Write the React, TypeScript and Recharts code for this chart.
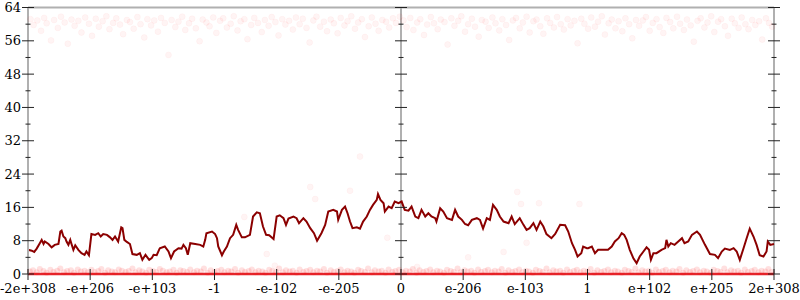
import React from 'react';
import { ComposedChart, Line, Scatter, XAxis, YAxis, ReferenceLine } from 'recharts';

const Y_TICKS = [0, 4, 8, 12, 16, 20, 24, 28, 32, 36, 40, 44, 48, 52, 56, 60, 64];
const X_TICKS = [-6, -5, -4, -3, -2, -1, 0, 1, 2, 3, 4, 5, 6];
const X_LABELS = ['-2e+308', '-e+206', '-e+103', '-1', '-e-102', '-e-205', '0', 'e-206', 'e-103', '1', 'e+102', 'e+205', '2e+308'];

const LINE_POINTS: [number, number][] = [
  [-6.0, 5.8], [-5.94, 5.6], [-5.9, 5.3], [-5.86, 6.1], [-5.81, 7.4], [-5.78, 8.2], [-5.75, 7.2], [-5.73, 7.8], [-5.67, 7.2], [-5.62, 6.4],
  [-5.57, 7.0], [-5.51, 7.2], [-5.48, 10.2], [-5.46, 10.4], [-5.43, 9.0], [-5.4, 8.6], [-5.38, 7.8], [-5.35, 7.0], [-5.32, 8.2], [-5.3, 7.2],
  [-5.27, 5.8], [-5.24, 6.9], [-5.19, 5.8], [-5.14, 5.0], [-5.09, 4.6], [-5.06, 5.4], [-5.02, 4.5], [-4.98, 9.6], [-4.92, 9.4], [-4.87, 9.8],
  [-4.83, 9.0], [-4.79, 9.6], [-4.73, 9.4], [-4.68, 8.8], [-4.64, 8.2], [-4.6, 9.0], [-4.55, 7.8], [-4.5, 11.2], [-4.48, 11.0], [-4.45, 8.2],
  [-4.41, 7.7], [-4.36, 7.2], [-4.32, 4.8], [-4.25, 4.6], [-4.2, 5.0], [-4.16, 3.4], [-4.11, 4.6], [-4.05, 3.4], [-4.01, 3.8], [-3.98, 4.6],
  [-3.93, 4.5], [-3.88, 6.2], [-3.8, 6.6], [-3.74, 5.4], [-3.7, 3.8], [-3.65, 5.4], [-3.58, 6.2], [-3.53, 6.1], [-3.5, 7.0], [-3.46, 6.2],
  [-3.43, 4.6], [-3.39, 7.4], [-3.31, 7.2], [-3.23, 7.0], [-3.18, 6.6], [-3.15, 8.2], [-3.13, 9.8], [-3.04, 10.2], [-2.99, 9.6],
  [-2.96, 8.6], [-2.94, 6.6], [-2.88, 4.5], [-2.85, 5.4], [-2.8, 6.6], [-2.75, 8.6], [-2.7, 9.4], [-2.65, 11.8], [-2.62, 10.6], [-2.56, 8.8],
  [-2.51, 8.8], [-2.43, 9.4], [-2.38, 13.8], [-2.32, 14.8], [-2.27, 14.6], [-2.22, 11.4], [-2.17, 9.4], [-2.12, 9.3], [-2.05, 8.4], [-2.0, 13.8],
  [-1.95, 14.1], [-1.89, 13.4], [-1.85, 11.8], [-1.81, 13.3], [-1.73, 13.8], [-1.68, 13.4], [-1.64, 12.2], [-1.57, 13.4], [-1.52, 12.6], [-1.46, 11.0],
  [-1.4, 9.8], [-1.35, 8.0], [-1.28, 9.8], [-1.22, 11.8], [-1.17, 15.0], [-1.09, 15.4], [-1.03, 15.0], [-1.01, 13.0], [-0.95, 15.4], [-0.9, 16.2],
  [-0.86, 14.6], [-0.82, 12.6], [-0.78, 11.0], [-0.71, 11.2], [-0.66, 10.9], [-0.61, 12.6], [-0.55, 13.8], [-0.5, 15.4], [-0.45, 16.6], [-0.39, 17.8],
  [-0.37, 19.2], [-0.33, 17.8], [-0.28, 17.0], [-0.26, 15.0], [-0.2, 16.2], [-0.15, 15.8], [-0.1, 17.4], [-0.04, 17.0],
  [0.01, 17.4], [0.06, 15.4], [0.12, 15.2], [0.17, 16.2], [0.23, 13.8], [0.28, 13.4], [0.33, 15.4], [0.39, 13.8], [0.44, 14.6], [0.49, 13.8],
  [0.55, 13.4], [0.57, 12.6], [0.63, 15.8], [0.68, 15.0], [0.74, 13.4], [0.82, 13.0], [0.87, 15.4], [0.92, 13.8], [0.98, 13.0], [1.03, 12.0],
  [1.08, 11.7], [1.14, 13.0], [1.22, 13.4], [1.27, 13.0], [1.32, 10.9], [1.38, 13.4], [1.43, 13.0], [1.48, 16.6], [1.54, 15.4], [1.59, 13.8],
  [1.65, 12.6], [1.73, 12.2], [1.78, 13.8], [1.83, 12.0], [1.91, 13.4], [1.97, 11.8], [2.02, 10.6], [2.07, 11.0], [2.13, 12.2], [2.18, 10.6],
  [2.24, 12.6], [2.29, 11.4], [2.34, 9.6], [2.42, 8.6], [2.48, 9.6], [2.56, 11.8], [2.64, 11.7], [2.69, 10.2], [2.75, 7.4], [2.8, 5.8],
  [2.84, 4.2], [2.9, 5.0], [2.93, 6.6], [2.99, 6.2],
  [3.01, 6.2], [3.07, 6.6], [3.12, 5.0], [3.17, 5.8], [3.25, 5.8], [3.33, 5.8], [3.39, 6.6], [3.44, 7.8], [3.5, 8.6], [3.55, 9.8],
  [3.59, 9.4], [3.63, 8.2], [3.68, 5.8], [3.74, 3.7], [3.79, 2.6], [3.84, 4.2], [3.9, 5.4], [3.95, 6.4], [3.99, 5.8], [4.02, 3.4],
  [4.06, 5.0], [4.11, 5.0], [4.19, 5.8], [4.25, 6.2], [4.27, 8.2], [4.3, 6.6], [4.34, 7.4], [4.4, 7.0], [4.46, 7.8], [4.52, 8.6],
  [4.56, 7.4], [4.62, 7.8], [4.68, 9.4], [4.76, 10.2], [4.81, 9.4], [4.89, 7.0], [4.97, 4.8], [5.05, 4.6], [5.1, 3.8], [5.16, 5.4],
  [5.21, 6.1], [5.29, 5.8], [5.35, 6.2], [5.4, 5.4], [5.45, 3.4], [5.51, 6.2], [5.56, 8.6], [5.61, 10.9], [5.67, 9.0], [5.72, 7.0],
  [5.77, 4.5], [5.83, 4.2], [5.88, 5.4], [5.9, 7.8], [5.94, 7.0], [6.0, 7.2],
];

const TOP_POINTS: [number, number][] = [
  [-5.96, 61.2], [-5.91, 59.8], [-5.85, 60.9], [-5.79, 58.4], [-5.74, 61.5], [-5.7, 60.2], [-5.63, 56.1], [-5.58, 61.0], [-5.52, 59.1], [-5.47, 61.8],
  [-5.41, 60.4], [-5.36, 55.3], [-5.3, 61.1], [-5.25, 59.6], [-5.19, 60.8], [-5.14, 58.0], [-5.08, 61.6], [-5.02, 60.1], [-4.97, 57.2], [-4.91, 61.3],
  [-4.86, 59.4], [-4.8, 60.7], [-4.74, 61.9], [-4.69, 58.8], [-4.63, 60.3], [-4.58, 61.4], [-4.52, 59.9], [-4.47, 57.6], [-4.41, 61.0], [-4.36, 60.5],
  [-4.3, 58.9], [-4.24, 61.7], [-4.19, 60.0], [-4.13, 56.8], [-4.08, 61.2], [-4.02, 59.7], [-3.97, 60.9], [-3.91, 58.2], [-3.86, 61.5], [-3.8, 60.3],
  [-3.74, 52.6], [-3.69, 61.0], [-3.63, 59.3], [-3.58, 60.6], [-3.52, 61.8], [-3.47, 58.6], [-3.41, 60.2], [-3.36, 61.3], [-3.3, 59.0], [-3.24, 55.9],
  [-3.19, 61.1], [-3.13, 60.4], [-3.08, 59.5], [-3.02, 61.6], [-2.97, 57.9], [-2.91, 60.8], [-2.86, 61.4], [-2.8, 59.2], [-2.74, 60.1], [-2.69, 61.9],
  [-2.63, 58.5], [-2.58, 60.7], [-2.52, 61.2], [-2.47, 56.4], [-2.41, 59.8], [-2.36, 61.5], [-2.3, 60.3], [-2.24, 58.1], [-2.19, 61.0], [-2.13, 59.6],
  [-2.08, 61.7], [-2.02, 60.5], [-1.97, 57.3], [-1.91, 61.2], [-1.86, 59.9], [-1.8, 60.8], [-1.74, 58.7], [-1.69, 61.6], [-1.63, 60.0], [-1.58, 61.3],
  [-1.52, 59.1], [-1.47, 55.6], [-1.41, 60.9], [-1.36, 61.8], [-1.3, 59.4], [-1.24, 60.6], [-1.19, 58.3], [-1.13, 61.1], [-1.08, 60.2], [-1.02, 57.8],
  [-0.97, 61.5], [-0.91, 59.7], [-0.86, 60.7], [-0.8, 61.9], [-0.74, 58.9], [-0.69, 60.4], [-0.63, 61.2], [-0.58, 56.9], [-0.52, 59.5], [-0.47, 61.6],
  [-0.41, 60.1], [-0.36, 58.4], [-0.3, 61.0], [-0.24, 60.6], [-0.19, 59.2], [-0.13, 61.4], [-0.08, 60.3], [-0.02, 61.8],
  [0.04, 60.9], [0.09, 59.3], [0.15, 61.5], [0.2, 58.6], [0.26, 60.4], [0.31, 61.2], [0.37, 57.4], [0.42, 59.9], [0.48, 61.7], [0.53, 60.2],
  [0.59, 58.8], [0.64, 61.1], [0.7, 60.5], [0.75, 55.1], [0.81, 61.4], [0.86, 59.6], [0.92, 60.8], [0.97, 61.9], [1.03, 58.2], [1.08, 60.0],
  [1.14, 61.3], [1.19, 59.4], [1.25, 57.0], [1.3, 61.0], [1.36, 60.6], [1.41, 59.1], [1.47, 61.6], [1.52, 60.2], [1.58, 58.5], [1.63, 61.2],
  [1.69, 59.8], [1.74, 56.2], [1.8, 60.9], [1.85, 61.5], [1.91, 59.0], [1.96, 60.4], [2.02, 61.8], [2.07, 58.0], [2.13, 60.7], [2.18, 61.1],
  [2.24, 59.5], [2.29, 57.7], [2.35, 61.4], [2.4, 60.3], [2.46, 59.2], [2.51, 61.7], [2.57, 60.0], [2.62, 58.7], [2.68, 61.2], [2.73, 59.7],
  [2.79, 60.8], [2.84, 55.4], [2.9, 61.3], [2.95, 60.1], [3.01, 58.9], [3.06, 61.6], [3.12, 59.4], [3.17, 60.6], [3.23, 61.9], [3.28, 57.5],
  [3.34, 60.2], [3.39, 61.1], [3.45, 59.0], [3.5, 60.7], [3.56, 58.3], [3.61, 61.4], [3.67, 60.0], [3.72, 56.6], [3.78, 61.0], [3.83, 59.6],
  [3.89, 60.9], [3.94, 61.7], [4.0, 58.4], [4.05, 60.3], [4.11, 61.2], [4.16, 59.3], [4.22, 57.9], [4.27, 61.5], [4.33, 60.5], [4.38, 59.0],
  [4.44, 61.8], [4.49, 60.1], [4.55, 58.6], [4.6, 61.1], [4.66, 59.7], [4.71, 55.8], [4.77, 60.8], [4.82, 61.4], [4.88, 59.2], [4.93, 60.4],
  [4.99, 61.9], [5.04, 58.1], [5.1, 60.6], [5.15, 61.2], [5.21, 59.5], [5.26, 57.2], [5.32, 61.3], [5.37, 60.2], [5.43, 59.1], [5.48, 61.6],
  [5.54, 60.0], [5.59, 58.8], [5.65, 61.0], [5.7, 59.8], [5.76, 60.7], [5.81, 56.3], [5.87, 61.4], [5.92, 60.3], [5.97, 59.4],
];

const MID_POINTS: [number, number][] = [
  [-1.46, 20.9], [-1.38, 18.0], [-0.82, 20.0], [-0.66, 28.2], [-2.52, 13.7], [-2.16, 4.8], [-2.03, 2.0], [-0.22, 8.7],
  [1.87, 19.7], [1.93, 16.8], [2.22, 17.0], [2.87, 16.8], [1.08, 4.0], [1.65, 5.3], [2.02, 7.5], [0.26, 1.7],
];

const BOTTOM_POINTS: [number, number][] = [
  [-5.97, 0.6], [-5.92, 0.9], [-5.86, 0.4], [-5.81, 1.2], [-5.75, 0.7], [-5.7, 0.3], [-5.64, 1.0], [-5.59, 0.5], [-5.53, 0.8], [-5.48, 1.3],
  [-5.42, 0.4], [-5.37, 0.7], [-5.31, 0.9], [-5.26, 0.3], [-5.2, 1.1], [-5.15, 0.6], [-5.09, 0.8], [-5.04, 0.4], [-4.98, 1.0], [-4.93, 0.5],
  [-4.87, 0.7], [-4.82, 1.2], [-4.76, 0.3], [-4.71, 0.9], [-4.65, 0.6], [-4.6, 0.4], [-4.54, 1.1], [-4.49, 0.8], [-4.43, 0.5], [-4.38, 0.7],
  [-4.32, 1.3], [-4.27, 0.4], [-4.21, 0.9], [-4.16, 0.6], [-4.1, 0.3], [-4.05, 1.0], [-3.99, 0.7], [-3.94, 0.5], [-3.88, 1.2], [-3.83, 0.8],
  [-3.77, 0.4], [-3.72, 0.6], [-3.66, 1.0], [-3.61, 0.3], [-3.55, 0.9], [-3.5, 0.7], [-3.44, 0.5], [-3.39, 1.1], [-3.33, 0.4], [-3.28, 0.8],
  [-3.22, 0.6], [-3.17, 1.3], [-3.11, 0.3], [-3.06, 0.9], [-3.0, 0.5], [-2.95, 0.7], [-2.89, 1.0], [-2.84, 0.4], [-2.78, 0.8], [-2.73, 0.6],
  [-2.67, 1.2], [-2.62, 0.3], [-2.56, 0.9], [-2.51, 0.5], [-2.45, 0.7], [-2.4, 1.1], [-2.34, 0.4], [-2.29, 0.8], [-2.23, 0.6], [-2.18, 0.3],
  [-2.12, 1.0], [-2.07, 0.7], [-2.01, 0.5], [-1.96, 1.3], [-1.9, 0.4], [-1.85, 0.9], [-1.79, 0.6], [-1.74, 0.8], [-1.68, 0.3], [-1.63, 1.1],
  [-1.57, 0.5], [-1.52, 0.7], [-1.46, 1.0], [-1.41, 0.4], [-1.35, 0.8], [-1.3, 0.6], [-1.24, 1.2], [-1.19, 0.3], [-1.13, 0.9], [-1.08, 0.5],
  [-1.02, 0.7], [-0.97, 1.1], [-0.91, 0.4], [-0.86, 0.8], [-0.8, 0.6], [-0.75, 0.3], [-0.69, 1.0], [-0.64, 0.7], [-0.58, 0.5], [-0.53, 1.3],
  [-0.47, 0.4], [-0.42, 0.9], [-0.36, 0.6], [-0.31, 0.8], [-0.25, 0.3], [-0.2, 1.1], [-0.14, 0.5], [-0.09, 0.7], [-0.03, 1.0],
  [0.03, 0.4], [0.08, 0.8], [0.14, 0.6], [0.19, 1.2], [0.25, 0.3], [0.3, 0.9], [0.36, 0.5], [0.41, 0.7], [0.47, 1.1], [0.52, 0.4],
  [0.58, 0.8], [0.63, 0.6], [0.69, 0.3], [0.74, 1.0], [0.8, 0.7], [0.85, 0.5], [0.91, 1.3], [0.96, 0.4], [1.02, 0.9], [1.07, 0.6],
  [1.13, 0.8], [1.18, 0.3], [1.24, 1.1], [1.29, 0.5], [1.35, 0.7], [1.4, 1.0], [1.46, 0.4], [1.51, 0.8], [1.57, 0.6], [1.62, 1.2],
  [1.68, 0.3], [1.73, 0.9], [1.79, 0.5], [1.84, 0.7], [1.9, 1.1], [1.95, 0.4], [2.01, 0.8], [2.06, 0.6], [2.12, 0.3], [2.17, 1.0],
  [2.23, 0.7], [2.28, 0.5], [2.34, 1.3], [2.39, 0.4], [2.45, 0.9], [2.5, 0.6], [2.56, 0.8], [2.61, 0.3], [2.67, 1.1], [2.72, 0.5],
  [2.78, 0.7], [2.83, 1.0], [2.89, 0.4], [2.94, 0.8], [3.0, 0.6], [3.05, 1.2], [3.11, 0.3], [3.16, 0.9], [3.22, 0.5], [3.27, 0.7],
  [3.33, 1.1], [3.38, 0.4], [3.44, 0.8], [3.49, 0.6], [3.55, 0.3], [3.6, 1.0], [3.66, 0.7], [3.71, 0.5], [3.77, 1.3], [3.82, 0.4],
  [3.88, 0.9], [3.93, 0.6], [3.99, 0.8], [4.04, 0.3], [4.1, 1.1], [4.15, 0.5], [4.21, 0.7], [4.26, 1.0], [4.32, 0.4], [4.37, 0.8],
  [4.43, 0.6], [4.48, 1.2], [4.54, 0.3], [4.59, 0.9], [4.65, 0.5], [4.7, 0.7], [4.76, 1.1], [4.81, 0.4], [4.87, 0.8], [4.92, 0.6],
  [4.98, 0.3], [5.03, 1.0], [5.09, 0.7], [5.14, 0.5], [5.2, 1.3], [5.25, 0.4], [5.31, 0.9], [5.36, 0.6], [5.42, 0.8], [5.47, 0.3],
  [5.53, 1.1], [5.58, 0.5], [5.64, 0.7], [5.69, 1.0], [5.75, 0.4], [5.8, 0.8], [5.86, 0.6], [5.91, 1.2], [5.96, 0.5],
];

const toXY = (pts: [number, number][]) => pts.map(([x, y]) => ({ x, y }));
const lineData = toXY(LINE_POINTS);
const topData = toXY(TOP_POINTS);
const midData = toXY(MID_POINTS);
const bottomData = toXY(BOTTOM_POINTS);
const floorData = X_TICKS.map((x) => ({ x, y: 0 }));
const centerTickData = Y_TICKS.map((y) => ({ x: 0, y }));
const rightTickData = Y_TICKS.map((y) => ({ x: 6, y }));

const FONT = '"DejaVu Serif", serif';
const GRAY = '#b0b0b0';
const TICK = '#222';

const LeftTick = (props: any) => {
  const { x, y, payload } = props;
  const v = payload.value as number;
  const major = v % 8 === 0;
  const len = major ? 6 : 2.5;
  return (
    <g>
      <line x1={x - len} x2={x + len} y1={y} y2={y} stroke={TICK} strokeWidth={1} />
      {major && (
        <text x={x - 7} y={y} dy="0.36em" textAnchor="end" fontFamily={FONT} fontSize={13} fill="#000">
          {v}
        </text>
      )}
    </g>
  );
};

const BottomTick = (props: any) => {
  const { x, y, payload } = props;
  const idx = X_TICKS.indexOf(payload.value);
  return (
    <g>
      <line x1={x} x2={x} y1={y - 5} y2={y + 6} stroke={TICK} strokeWidth={1} />
      <text x={x} y={y + 19} textAnchor="middle" fontFamily={FONT} fontSize={13} fill="#000">
        {X_LABELS[idx]}
      </text>
    </g>
  );
};

const AxisTickShape = (p: any) => {
  const major = p.payload.y % 8 === 0;
  const len = major ? 6 : 2.5;
  return <line x1={p.cx - len} x2={p.cx + len} y1={p.cy} y2={p.cy} stroke={TICK} strokeWidth={1} />;
};

const PinkDot = (p: any) => (
  <circle cx={p.cx} cy={p.cy} r={3} fill="#ff0000" fillOpacity={0.045} stroke="#ff0000" strokeOpacity={0.03} strokeWidth={1} />
);

const BottomDot = (p: any) => (
  <circle cx={p.cx} cy={p.cy} r={3} fill="#ff0000" fillOpacity={0.12} />
);

export default function App() {
  return (
    <div style={{ position: 'absolute', left: 0, top: 0, background: '#fff' }}>
      <ComposedChart width={800} height={300} margin={{ top: 7.5, right: 26, bottom: 0, left: 0 }}>
        <XAxis
          type="number"
          dataKey="x"
          domain={[-6, 6]}
          ticks={X_TICKS}
          height={26}
          axisLine={false}
          tickLine={false}
          tickSize={0}
          tickMargin={0}
          tick={<BottomTick />}
          interval={0}
        />
        <YAxis
          type="number"
          dataKey="y"
          domain={[0, 64]}
          ticks={Y_TICKS}
          width={28}
          axisLine={{ stroke: GRAY, strokeWidth: 2 }}
          tickLine={false}
          tickSize={0}
          tickMargin={0}
          tick={<LeftTick />}
          interval={0}
        />
        <ReferenceLine y={64} stroke={GRAY} strokeWidth={2} />
        <ReferenceLine x={0} stroke={GRAY} strokeWidth={2} />
        <ReferenceLine x={6} stroke={GRAY} strokeWidth={2} />
        <Scatter data={centerTickData} shape={AxisTickShape} isAnimationActive={false} />
        <Scatter data={rightTickData} shape={AxisTickShape} isAnimationActive={false} />
        <Scatter data={topData} shape={PinkDot} isAnimationActive={false} />
        <Scatter data={midData} shape={PinkDot} isAnimationActive={false} />
        <Scatter data={bottomData} shape={BottomDot} isAnimationActive={false} />
        <Line data={floorData} dataKey="y" stroke="#e4262c" strokeWidth={2.5} dot={false} isAnimationActive={false} />
        <Line data={lineData} dataKey="y" stroke="#8b0000" strokeWidth={2} dot={false} isAnimationActive={false} />
      </ComposedChart>
    </div>
  );
}
